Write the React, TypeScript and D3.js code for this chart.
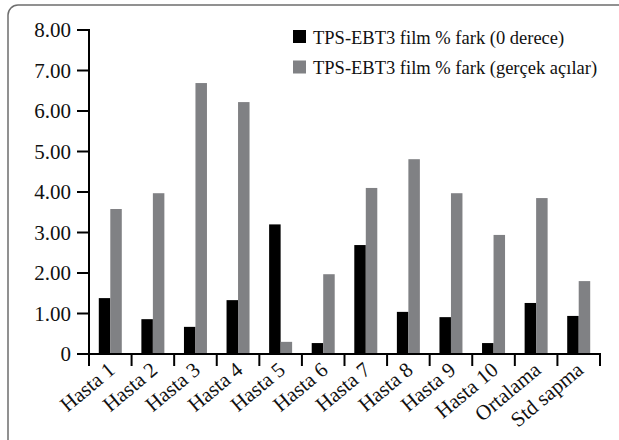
import React from "react";
import * as d3 from "d3";

const categories = ["Hasta 1", "Hasta 2", "Hasta 3", "Hasta 4", "Hasta 5", "Hasta 6", "Hasta 7", "Hasta 8", "Hasta 9", "Hasta 10", "Ortalama", "Std sapma"];
const series0 = [1.38, 0.86, 0.67, 1.33, 3.2, 0.27, 2.69, 1.04, 0.91, 0.27, 1.26, 0.94];
const seriesReal = [3.58, 3.97, 6.69, 6.22, 0.3, 1.97, 4.1, 4.81, 3.97, 2.94, 3.85, 1.8];
const yTicks = [0, 1, 2, 3, 4, 5, 6, 7, 8];
const legendLabels = ["TPS-EBT3 film % fark (0 derece)", "TPS-EBT3 film % fark (gerçek açılar)"];

const W = 619;
const H = 440;
const left = 89;
const right = 600;
const top = 30;
const bottom = 354;
const font = "'Liberation Serif', 'Times New Roman', serif";
const gray = "#808184";

export default function App() {
  const x = d3.scaleBand<string>().domain(categories).range([left, right]).padding(0);
  const y = d3.scaleLinear().domain([0, 8]).range([bottom, top]);
  const bw = x.bandwidth() * 0.27;
  const boundaries = [...categories.map((c) => x(c) as number), right];

  return (
    <svg width={W} height={H} style={{ position: "absolute", left: 0, top: 0 }}>
      <rect x={8} y={5} width={720} height={450} rx={10} fill="white" stroke="#6e6e6e" strokeWidth={1.5} />
      {categories.map((c, i) => {
        const cx = (x(c) as number) + x.bandwidth() / 2;
        return (
          <g key={c}>
            <rect x={cx - bw} y={y(series0[i])} width={bw} height={bottom - y(series0[i])} fill="#000" />
            <rect x={cx} y={y(seriesReal[i])} width={bw} height={bottom - y(seriesReal[i])} fill={gray} />
          </g>
        );
      })}
      {/* y axis */}
      <line x1={left} x2={left} y1={top - 1} y2={bottom + 12} stroke="#000" strokeWidth={2} />
      {yTicks.map((t) => (
        <g key={t}>
          <line x1={left - 12} x2={left} y1={y(t)} y2={y(t)} stroke="#000" strokeWidth={2} />
          <text x={left - 18} y={y(t)} dy="0.35em" textAnchor="end" fontFamily={font} fontSize={21} fill="#111">
            {t === 0 ? "0" : t.toFixed(2)}
          </text>
        </g>
      ))}
      {/* x axis */}
      <line x1={left} x2={right + 1} y1={bottom} y2={bottom} stroke="#000" strokeWidth={2} />
      {boundaries.map((bx, i) => (
        <line key={i} x1={bx} x2={bx} y1={bottom} y2={bottom + 12} stroke="#000" strokeWidth={2} />
      ))}
      {categories.map((c) => {
        const cx = (x(c) as number) + x.bandwidth() / 2 + 6;
        const cy = bottom + 18;
        return (
          <text key={c} x={cx} y={cy} textAnchor="end" fontFamily={font} fontSize={21} fill="#111" transform={`rotate(-40 ${cx} ${cy})`}>
            {c}
          </text>
        );
      })}
      {/* legend */}
      {legendLabels.map((l, i) => (
        <g key={l}>
          <rect x={293} y={30 + i * 30.5} width={13} height={13} fill={i === 0 ? "#000" : gray} />
          <text x={313} y={43.5 + i * 30.5} fontFamily={font} fontSize={18.5} fill="#111">
            {l}
          </text>
        </g>
      ))}
    </svg>
  );
}
